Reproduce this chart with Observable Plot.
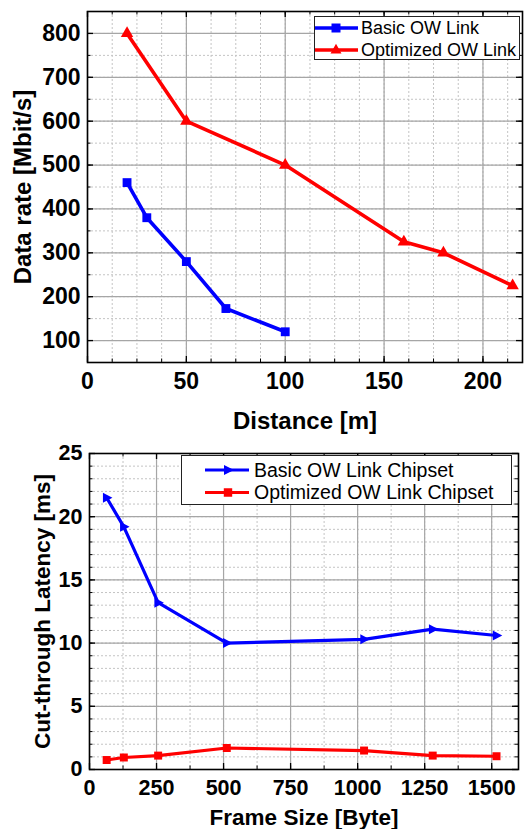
<!DOCTYPE html>
<html>
<head>
<meta charset="utf-8">
<script src="https://cdn.jsdelivr.net/npm/d3@7"></script>
<script src="https://cdn.jsdelivr.net/npm/@observablehq/plot@0.6"></script>
<style>
  html, body { margin: 0; padding: 0; background: #fff; }
  #wrap { position: relative; width: 524px; height: 829px; overflow: hidden; }
  #wrap > svg, #wrap > div > svg { display: block; }
  .legend { position: absolute; background: #fff; border: 1px solid #222; box-sizing: border-box; }
  .legend svg { position: absolute; left: 0; top: 0; overflow: visible; }
</style>
</head>
<body>
<div id="wrap"></div>
<script>
// ---------- Data: top chart (Data rate vs Distance) ----------
const distBasic = [20, 30, 50, 70, 100];
const rateBasic = [460, 380, 280, 173, 120];
const distOpt = [20, 50, 100, 160, 180, 215];
const rateOpt = [800, 600, 500, 325, 300, 225];
const topSeries = ["Basic OW Link", "Optimized OW Link"];
const topXTicks = [0, 50, 100, 150, 200];
const topYTicks = [100, 200, 300, 400, 500, 600, 700, 800];
const topXMinor = d3.range(0, 220.1, 12.5);
const topYMinor = d3.range(50, 850.1, 50);

// ---------- Data: bottom chart (Latency vs Frame size) ----------
const frameSizes = [64, 128, 256, 512, 1024, 1280, 1518];
const latBasic = [21.5, 19.2, 13.2, 10.0, 10.3, 11.1, 10.6];
const latOpt = [0.75, 0.95, 1.1, 1.7, 1.5, 1.1, 1.05];
const botSeries = ["Basic OW Link Chipset", "Optimized OW Link Chipset"];
const botXTicks = [0, 250, 500, 750, 1000, 1250, 1500];
const botYTicks = [0, 5, 10, 15, 20, 25];
const botXMinor = d3.range(0, 1600.1, 125);
const botYMinor = d3.range(0, 25.1, 1);

const BLUE = "#0000ff", RED = "#ff0000";
const FONT = "'Liberation Sans', Arial, Helvetica, sans-serif";
const plain = d => String(d);

const topBasicRows = distBasic.map((d, i) => ({x: d, y: rateBasic[i]}));
const topOptRows = distOpt.map((d, i) => ({x: d, y: rateOpt[i]}));
const botBasicRows = frameSizes.map((d, i) => ({x: d, y: latBasic[i]}));
const botOptRows = frameSizes.map((d, i) => ({x: d, y: latOpt[i]}));

const triRight = {
  draw(ctx, size) {
    const r = Math.sqrt(size / Math.PI);
    ctx.moveTo(1.15 * r, 0);
    ctx.lineTo(-0.75 * r, -1.0 * r);
    ctx.lineTo(-0.75 * r, 1.0 * r);
    ctx.closePath();
  }
};

function frameMarks({fw, fh, xMaj, yMaj, xMin, yMin, tickFont, xPad, yPad}) {
  const majL = 6, minL = 3.5;
  return [
    Plot.gridX(xMin, {stroke: "#c4c4c4", strokeOpacity: 1, strokeWidth: 1, strokeDasharray: "2,2"}),
    Plot.gridY(yMin, {stroke: "#c4c4c4", strokeOpacity: 1, strokeWidth: 1, strokeDasharray: "2,2"}),
    Plot.gridX(xMaj, {stroke: "#a6a6a6", strokeOpacity: 1, strokeWidth: 1.2}),
    Plot.gridY(yMaj, {stroke: "#a6a6a6", strokeOpacity: 1, strokeWidth: 1.2}),
    Plot.tickY(yMaj, {y: d => d, insetRight: fw - majL, stroke: "#000", strokeWidth: 1.3}),
    Plot.tickY(yMaj, {y: d => d, insetLeft: fw - majL, stroke: "#000", strokeWidth: 1.3}),
    Plot.tickY(yMin, {y: d => d, insetRight: fw - minL, stroke: "#000", strokeWidth: 1}),
    Plot.tickY(yMin, {y: d => d, insetLeft: fw - minL, stroke: "#000", strokeWidth: 1}),
    Plot.tickX(xMaj, {x: d => d, insetTop: fh - majL, stroke: "#000", strokeWidth: 1.3}),
    Plot.tickX(xMaj, {x: d => d, insetBottom: fh - majL, stroke: "#000", strokeWidth: 1.3}),
    Plot.tickX(xMin, {x: d => d, insetTop: fh - minL, stroke: "#000", strokeWidth: 1}),
    Plot.tickX(xMin, {x: d => d, insetBottom: fh - minL, stroke: "#000", strokeWidth: 1}),
    Plot.axisX(xMaj, {tickSize: 0, tickPadding: xPad, fontSize: tickFont, fontWeight: "bold", fill: "#000", label: null, tickFormat: plain}),
    Plot.axisY(yMaj, {tickSize: 0, tickPadding: yPad, fontSize: tickFont, fontWeight: "bold", fill: "#000", label: null, tickFormat: plain})
  ];
}

// ---------- Top chart ----------
const W = 524;
const topH = 440, tML = 87, tMR = 2, tMT = 11, tMB = 78;
const topChart = Plot.plot({
  width: W, height: topH,
  marginLeft: tML, marginRight: tMR, marginTop: tMT, marginBottom: tMB,
  x: {domain: [0, 220], label: null},
  y: {domain: [50, 850], label: null},
  style: {fontFamily: FONT, fontWeight: "bold", fontSize: "23px", background: "transparent", overflow: "visible", color: "#000"},
  marks: [
    ...frameMarks({fw: W - tML - tMR, fh: topH - tMT - tMB, xMaj: topXTicks, yMaj: topYTicks,
      xMin: topXMinor, yMin: topYMinor, tickFont: 23, xPad: 10, yPad: 7}),
    Plot.line(topBasicRows, {x: "x", y: "y", stroke: BLUE, strokeWidth: 3.6}),
    Plot.dot(topBasicRows, {x: "x", y: "y", symbol: "square", r: 5, fill: BLUE, stroke: "none"}),
    Plot.line(topOptRows, {x: "x", y: "y", stroke: RED, strokeWidth: 3.6}),
    Plot.dot(topOptRows, {x: "x", y: "y", symbol: "triangle", r: 4.6, fill: RED, stroke: "none"}),
    Plot.text(["Distance [m]"], {frameAnchor: "bottom", dy: 59, lineAnchor: "middle", fontSize: 24, fontWeight: "bold", fill: "#000"}),
    Plot.text(["Data rate [Mbit/s]"], {frameAnchor: "left", dx: -64, rotate: -90, lineAnchor: "middle", textAnchor: "middle", fontSize: 24, fontWeight: "bold", fill: "#000"}),
    Plot.frame({stroke: "#000", strokeWidth: 1.6})
  ]
});

// ---------- Bottom chart ----------
const botH = 389, bML = 89, bMR = 6, bMT = 13, bMB = 60;
const bottomChart = Plot.plot({
  width: W, height: botH,
  marginLeft: bML, marginRight: bMR, marginTop: bMT, marginBottom: bMB,
  x: {domain: [0, 1600], label: null},
  y: {domain: [0, 25], label: null},
  style: {fontFamily: FONT, fontWeight: "bold", fontSize: "21.5px", background: "transparent", overflow: "visible", color: "#000"},
  marks: [
    ...frameMarks({fw: W - bML - bMR, fh: botH - bMT - bMB, xMaj: botXTicks, yMaj: botYTicks,
      xMin: botXMinor, yMin: botYMinor, tickFont: 21.5, xPad: 10, yPad: 7}),
    Plot.line(botBasicRows, {x: "x", y: "y", stroke: BLUE, strokeWidth: 3.2}),
    Plot.dot(botBasicRows, {x: "x", y: "y", symbol: triRight, r: 5, fill: BLUE, stroke: "none"}),
    Plot.line(botOptRows, {x: "x", y: "y", stroke: RED, strokeWidth: 3.2}),
    Plot.dot(botOptRows, {x: "x", y: "y", symbol: "square", r: 4.5, fill: RED, stroke: "none"}),
    Plot.text(["Frame Size [Byte]"], {frameAnchor: "bottom", dy: 48, lineAnchor: "middle", fontSize: 22.5, fontWeight: "bold", fill: "#000"}),
    Plot.text(["Cut-through Latency [ms]"], {frameAnchor: "left", dx: -46.5, rotate: -90, lineAnchor: "middle", textAnchor: "middle", fontSize: 22.5, fontWeight: "bold", fill: "#000"}),
    Plot.frame({stroke: "#000", strokeWidth: 1.6})
  ]
});

// force tick-label font size on the axis text groups
d3.select(topChart).selectAll('g[aria-label$="tick label"]').style("font-size", "23px").attr("font-size", 23);
d3.select(bottomChart).selectAll('g[aria-label$="tick label"]').style("font-size", "21.5px").attr("font-size", 21.5);

const wrap = document.getElementById("wrap");
wrap.appendChild(topChart);
wrap.appendChild(bottomChart);

// ---------- Legends ----------
function legend({left, top, width, height, rows, lineX0, lineX1, markX, textX, fontSize}) {
  const div = document.createElement("div");
  div.className = "legend";
  Object.assign(div.style, {left: left + "px", top: top + "px", width: width + "px", height: height + "px"});
  const ns = "http://www.w3.org/2000/svg";
  const svg = document.createElementNS(ns, "svg");
  svg.setAttribute("width", width);
  svg.setAttribute("height", height);
  rows.forEach(r => {
    const ln = document.createElementNS(ns, "line");
    ln.setAttribute("x1", lineX0); ln.setAttribute("x2", lineX1);
    ln.setAttribute("y1", r.y); ln.setAttribute("y2", r.y);
    ln.setAttribute("stroke", r.color); ln.setAttribute("stroke-width", r.lw);
    svg.appendChild(ln);
    const p = document.createElementNS(ns, "path");
    const s = r.size;
    let d;
    if (r.symbol === "square") d = `M${markX - s},${r.y - s}h${2 * s}v${2 * s}h${-2 * s}Z`;
    else if (r.symbol === "triangle") d = `M${markX},${r.y - s * 1.25}L${markX + s * 1.1},${r.y + s * 0.7}L${markX - s * 1.1},${r.y + s * 0.7}Z`;
    else d = `M${markX + s * 1.2},${r.y}L${markX - s * 0.8},${r.y - s}L${markX - s * 0.8},${r.y + s}Z`;
    p.setAttribute("d", d); p.setAttribute("fill", r.color);
    svg.appendChild(p);
    const t = document.createElementNS(ns, "text");
    t.setAttribute("x", textX); t.setAttribute("y", r.y);
    t.setAttribute("dy", "0.35em");
    t.setAttribute("font-family", FONT);
    t.setAttribute("font-size", fontSize);
    t.setAttribute("fill", "#000");
    t.textContent = r.label;
    svg.appendChild(t);
  });
  div.appendChild(svg);
  wrap.appendChild(div);
}

legend({left: 314, top: 16, width: 206, height: 44, lineX0: 0, lineX1: 43, markX: 21, textX: 46, fontSize: 18,
  rows: [
    {label: topSeries[0], color: BLUE, symbol: "square", y: 11, lw: 3.6, size: 4.5},
    {label: topSeries[1], color: RED, symbol: "triangle", y: 33, lw: 3.6, size: 5}
  ]});

legend({left: 181, top: 455, width: 331, height: 50, lineX0: 23, lineX1: 67, markX: 46, textX: 72, fontSize: 19.5,
  rows: [
    {label: botSeries[0], color: BLUE, symbol: "tri", y: 14, lw: 3.2, size: 5},
    {label: botSeries[1], color: RED, symbol: "square", y: 36.5, lw: 3.2, size: 4.2}
  ]});
</script>
</body>
</html>
